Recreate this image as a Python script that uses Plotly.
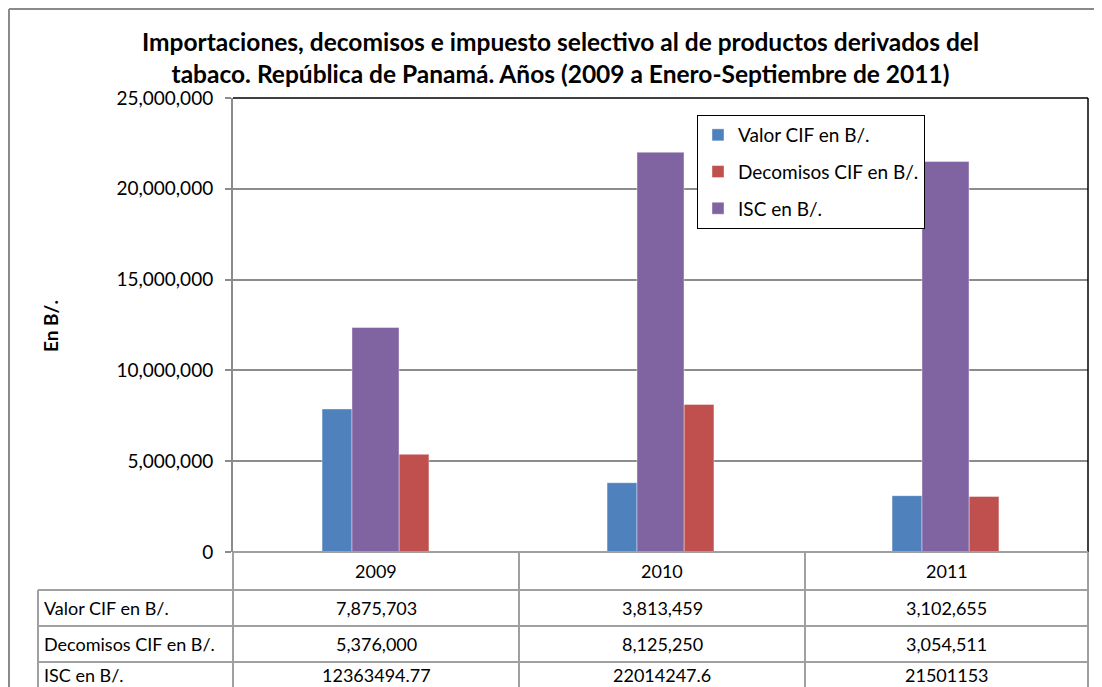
import plotly.graph_objects as go

years = ["2009", "2010", "2011"]
valor_cif = [7875703, 3813459, 3102655]
decomisos_cif = [5376000, 8125250, 3054511]
isc = [12363494.77, 22014247.6, 21501153]

series_names = ["Valor CIF en B/.", "Decomisos CIF en B/.", "ISC en B/."]
series_values = [valor_cif, decomisos_cif, isc]
series_colors = ["#4F81BD", "#C0504D", "#8064A2"]
title_text = ("Importaciones, decomisos e impuesto selectivo al de productos derivados del<br>"
              "tabaco. República de Panamá. Años (2009 a Enero-Septiembre de 2011)")
y_title = "En B/."

FONT = "Lato"
OFF = 8  # page body margin
W, H = 1102 - OFF, 687 - OFF
# plot area in page pixels: x 233..1088, y 98..552
PX0, PX1, PY0, PY1 = 233, 1088, 98, 552
L, R, T, B = PX0 - OFF, W - (PX1 - OFF), PY0 - OFF, H - (PY1 - OFF)
PW, PH = PX1 - PX0, PY1 - PY0


def px(x):
    return (x - PX0) / PW


def py(y):
    return (PY1 - y) / PH


def fmt_commas(v):
    return f"{v:,.0f}"


def fmt_raw(v):
    return str(int(v)) if float(v).is_integer() else str(v)


# bar geometry (category units): blue | purple | red
geom = {
    "Valor CIF en B/.": (-0.1875, 0.105),
    "ISC en B/.": (-0.0825, 0.165),
    "Decomisos CIF en B/.": (0.0825, 0.105),
}

fig = go.Figure()
for name, vals, col in zip(series_names, series_values, series_colors):
    off, wd = geom[name]
    fig.add_trace(go.Bar(
        x=years, y=vals, name=name, legendgroup=name,
        marker=dict(color=col, line=dict(color="rgba(255,255,255,0.5)", width=0.8)),
        offset=off, width=wd,
    ))

GRAY = "#8C8C8C"
TGRAY = "#A0A0A0"
shapes = []


def line(x0, y0, x1, y1, color=TGRAY, width=2):
    shapes.append(dict(type="line", xref="paper", yref="paper",
                       x0=px(x0), y0=py(y0), x1=px(x1), y1=py(y1),
                       line=dict(color=color, width=width), layer="above"))


# outer frame
line(OFF + 1, OFF + 1, 1097, OFF + 1, color="#8A8A8A", width=2)
line(OFF + 1, OFF + 1, OFF + 1, 687, color="#8A8A8A", width=2)
# plot border top/right in black
line(233, 98, 1088, 98, color="black", width=1.5)
line(1088, 98, 1088, 552, color="black", width=1.5)

# table
row_ys = [552, 590, 626, 662]
col_xs = [233, 519, 805, 1088]
line(233, 552, 1088, 552)
for yy in row_ys[1:]:
    line(38, yy, 1088, yy)
for xx in col_xs:
    line(xx, 552, xx, 687)
line(38, 590, 38, 687)

TFS = 18
annotations = []
for i, yr in enumerate(years):
    annotations.append(dict(x=(px(col_xs[i]) + px(col_xs[i + 1])) / 2, y=py(571),
                            xref="paper", yref="paper", text=yr, showarrow=False,
                            font=dict(family=FONT, size=TFS, color="black"),
                            xanchor="center", yanchor="middle"))
row_centers = [608, 644, 675]
formatters = [fmt_commas, fmt_commas, fmt_raw]
for r, (name, vals, f) in enumerate(zip(series_names, series_values, formatters)):
    annotations.append(dict(x=px(42), y=py(row_centers[r]), xref="paper", yref="paper",
                            text=name, showarrow=False,
                            font=dict(family=FONT, size=TFS, color="black"),
                            xanchor="left", yanchor="middle"))
    for i, v in enumerate(vals):
        annotations.append(dict(x=(px(col_xs[i]) + px(col_xs[i + 1])) / 2, y=py(row_centers[r]),
                                xref="paper", yref="paper", text=f(v), showarrow=False,
                                font=dict(family=FONT, size=TFS, color="black"),
                                xanchor="center", yanchor="middle"))

annotations.append(dict(x=px(560), y=py(57), xref="paper", yref="paper",
                        text="<b>" + title_text.replace("<br>", "</b><br><b>") + "</b>",
                        showarrow=False, font=dict(family=FONT, size=24.5, color="black"),
                        xanchor="center", yanchor="middle"))
annotations.append(dict(x=px(50), y=py(326), xref="paper", yref="paper",
                        text="<b>" + y_title + "</b>", textangle=-90, showarrow=False,
                        font=dict(family=FONT, size=19, color="black"),
                        xanchor="center", yanchor="middle"))

fig.update_layout(
    width=W, height=H,
    margin=dict(l=L, r=R, t=T, b=B, pad=0),
    paper_bgcolor="white", plot_bgcolor="white",
    barmode="overlay",
    showlegend=True,
    legend=dict(x=px(697), y=py(115), xanchor="left", yanchor="top",
                bgcolor="white", bordercolor="black", borderwidth=1,
                font=dict(family=FONT, size=19, color="black"),
                traceorder="grouped", tracegroupgap=9, itemwidth=30),
    xaxis=dict(type="category", categoryarray=years, range=[-0.5, 2.5],
               showticklabels=False, showgrid=False, zeroline=False, showline=False,
               ticks=""),
    yaxis=dict(range=[0, 25e6], dtick=5e6, tickformat=",", showgrid=True,
               gridcolor=GRAY, gridwidth=2, zeroline=False,
               showline=True, linecolor=GRAY, linewidth=2,
               ticks="outside", ticklen=6, tickcolor=GRAY, tickwidth=2,
               tickfont=dict(family=FONT, size=19, color="black"), ticklabelstandoff=8),
    shapes=shapes,
    annotations=annotations,
    font=dict(family=FONT),
)

fig.write_html("out.html")
